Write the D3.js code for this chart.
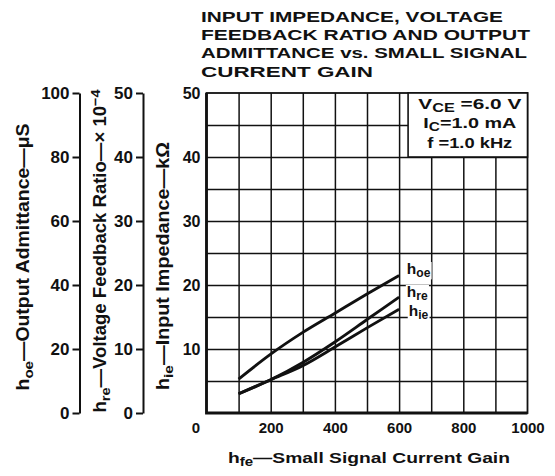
<!DOCTYPE html>
<html>
<head>
<meta charset="utf-8">
<script src="https://cdn.jsdelivr.net/npm/d3@7"></script>
<style>
  body { margin: 0; background: #fff; }
  text { font-family: "Liberation Sans", Arial, sans-serif; font-weight: bold; fill: #111; }
</style>
</head>
<body>
<div id="chart"></div>
<script>
// values (hfe on x)
var hfe = [100, 200, 300, 400, 500, 600]
var hoe = [10.6, 18.4, 25.2, 31.2, 37.2, 43.0]   // output admittance, uS
var hre = [3.0, 5.2, 7.9, 11.1, 14.6, 18.1]      // feedback ratio, x10^-4
var hie = [3.0, 5.2, 7.4, 10.3, 13.3, 16.2]      // input impedance, kOhm

// tick labels
var xTicks = [0, 200, 400, 600, 800, 1000]
var hieTicks = [10, 20, 30, 40, 50]
var hreTicks = [0, 10, 20, 30, 40, 50]
var hoeTicks = [0, 20, 40, 60, 80, 100]

var titleLines = ["INPUT IMPEDANCE, VOLTAGE", "FEEDBACK RATIO AND OUTPUT",
                  "ADMITTANCE vs. SMALL SIGNAL", "CURRENT GAIN"]
var conditions = [
  [["V"], ["CE", "sub"], [" =6.0  V"]],
  [["I"], ["C", "sub"], ["=1.0  mA"]],
  [["f =1.0  kHz"]]
]

// sizes (plot box edges)
var widthSvg = 555, heightSvg = 476
var plotLeft = 206.5, plotRight = 527.5, plotTop = 93, plotBottom = 413

var svg = d3.select("#chart").append("svg")
  .attr("width", widthSvg)
  .attr("height", heightSvg)

var x = d3.scaleLinear().domain([0, 1000]).range([plotLeft, plotRight])
var yHie = d3.scaleLinear().domain([0, 50]).range([plotBottom, plotTop])
var yHre = d3.scaleLinear().domain([0, 50]).range([plotBottom, plotTop])
var yHoe = d3.scaleLinear().domain([0, 100]).range([plotBottom, plotTop])

// writes text pieces with subscripts / superscripts into a text element
function richText(sel, parts) {
  parts.forEach(function(p) {
    var t = sel.append("tspan").text(p[0])
    if (p[1] == "sub") t.attr("font-size", "0.78em").attr("baseline-shift", "-28%")
    if (p[1] == "sup") t.attr("font-size", "0.78em").attr("baseline-shift", "42%")
  })
  return sel
}

// title
svg.selectAll(".title")
  .data(titleLines)
  .enter()
  .append("text")
  .attr("class", "title")
  .attr("x", 201)
  .attr("y", function(d, i) { return 22 + i * 18.2 })
  .attr("font-size", 15.5)
  .attr("textLength", function(d, i) { return [302, 329, 326, 172][i] })
  .attr("lengthAdjust", "spacingAndGlyphs")
  .text(function(d) { return d })

// grid
var plot = svg.append("g")

plot.append("g")
  .attr("transform", "translate(0," + plotBottom + ")")
  .call(d3.axisBottom(x).tickValues(d3.range(100, 1000, 100)).tickSize(-(plotBottom - plotTop)).tickFormat(""))
  .call(function(g) { g.select(".domain").remove() })
  .selectAll("line").attr("stroke", "#111").attr("stroke-width", 1.5)

plot.append("g")
  .attr("transform", "translate(" + plotLeft + ",0)")
  .call(d3.axisLeft(yHie).tickValues(d3.range(5, 50, 5)).tickSize(-(plotRight - plotLeft)).tickFormat(""))
  .call(function(g) { g.select(".domain").remove() })
  .selectAll("line").attr("stroke", "#111").attr("stroke-width", 1.5)

// frame
plot.append("rect")
  .attr("x", plotLeft).attr("y", plotTop)
  .attr("width", plotRight - plotLeft).attr("height", plotBottom - plotTop)
  .attr("fill", "none").attr("stroke", "#111").attr("stroke-width", 1.8)
plot.append("path")
  .attr("d", "M" + plotLeft + "," + plotTop + "V" + plotBottom + "H" + plotRight)
  .attr("fill", "none").attr("stroke", "#111").attr("stroke-width", 2.8)

// conditions box in the upper right corner
var box = svg.append("g")
box.append("rect")
  .attr("x", x(628)).attr("y", yHie(50))
  .attr("width", x(1000) - x(628)).attr("height", yHie(40) - yHie(50))
  .attr("fill", "#fff").attr("stroke", "#111").attr("stroke-width", 1.6)
conditions.forEach(function(parts, i) {
  box.append("text")
    .attr("x", (x(628) + x(1000)) / 2 + 2)
    .attr("y", 108.5 + i * 19.7)
    .attr("font-size", 15.5)
    .attr("text-anchor", "middle")
    .attr("textLength", [103, 93, 85][i])
    .attr("lengthAdjust", "spacingAndGlyphs")
    .call(richText, parts)
})

// curves
var line = d3.line()
  .x(function(d) { return x(d[0]) })
  .y(function(d) { return d[2](d[1]) })
  .curve(d3.curveMonotoneX)

var series = [
  { name: "oe", values: hoe, scale: yHoe },
  { name: "re", values: hre, scale: yHre },
  { name: "ie", values: hie, scale: yHie }
]

svg.selectAll(".curve")
  .data(series)
  .enter()
  .append("path")
  .attr("class", "curve")
  .attr("d", function(s) {
    return line(hfe.map(function(h, i) { return [h, s.values[i], s.scale] }))
  })
  .attr("fill", "none")
  .attr("stroke", "#111")
  .attr("stroke-width", 2.9)

// curve labels with white background
series.forEach(function(s, i) {
  var g = svg.append("g")
  var bg = g.append("rect").attr("fill", "#fff")
  var t = g.append("text")
    .attr("x", x(s.name == "ie" ? 630 : 624))
    .attr("y", [274, 297, 316][i])
    .attr("font-size", 15.5)
    .call(richText, [["h"], [s.name, "sub"]])
  var bb = t.node().getBBox()
  bg.attr("x", bb.x - 1).attr("y", bb.y + 2).attr("width", bb.width + 2).attr("height", bb.height - 3)
})

// main (hie) axis labels
svg.append("g")
  .attr("transform", "translate(" + plotLeft + ",0)")
  .call(d3.axisLeft(yHie).tickValues(hieTicks).tickSize(0).tickPadding(6))
  .call(function(g) { g.select(".domain").remove() })
  .selectAll("text").attr("font-size", 16)

svg.append("g")
  .attr("transform", "translate(0," + plotBottom + ")")
  .call(d3.axisBottom(x).tickValues(xTicks).tickSize(0).tickPadding(9).tickFormat(d3.format("d")))
  .call(function(g) { g.select(".domain").remove() })
  .selectAll("text")
  .attr("font-size", 15)
  .attr("dx", function(d) { return d == 0 ? -11 : 0 })

// extra left axes: hre and hoe
function sideAxis(xpos, scale, ticks) {
  var g = svg.append("g")
    .attr("transform", "translate(" + xpos + ",0)")
    .call(d3.axisLeft(scale).tickValues(ticks).tickSize(7).tickSizeOuter(0).tickPadding(3))
  g.select(".domain").attr("stroke", "#111").attr("stroke-width", 2)
  g.selectAll("line").attr("stroke", "#111").attr("stroke-width", 2)
  g.selectAll("text").attr("font-size", 17)
}
sideAxis(143, yHre, hreTicks)
sideAxis(79.5, yHoe, hoeTicks)

svg.selectAll(".tick text").attr("font-family", null).attr("fill", "#111")

// axis titles
svg.append("text")
  .attr("x", (plotLeft + plotRight) / 2 + 2)
  .attr("y", 463)
  .attr("font-size", 15.5)
  .attr("text-anchor", "middle")
  .attr("textLength", 282)
  .attr("lengthAdjust", "spacingAndGlyphs")
  .call(richText, [["h"], ["fe", "sub"], ["\u2014Small Signal Current Gain"]])

var sideTitles = [
  { x: 29, y: 257, len: 267, parts: [["h"], ["oe", "sub"], ["\u2014Output  Admittance\u2014\u03bcS"]] },
  { x: 106, y: 251, len: 323, parts: [["h"], ["re", "sub"], ["\u2014Voltage  Feedback  Ratio\u2014\u00d7 10"], ["\u22124", "sup"]] },
  { x: 169, y: 266, len: 248, parts: [["h"], ["ie", "sub"], ["\u2014Input  Impedance\u2014k\u03a9"]] }
]
sideTitles.forEach(function(d) {
  svg.append("text")
    .attr("transform", "translate(" + d.x + "," + d.y + ") rotate(-90)")
    .attr("font-size", 17.5)
    .attr("text-anchor", "middle")
    .attr("textLength", d.len)
    .attr("lengthAdjust", "spacingAndGlyphs")
    .call(richText, d.parts)
})
</script>
</body>
</html>
